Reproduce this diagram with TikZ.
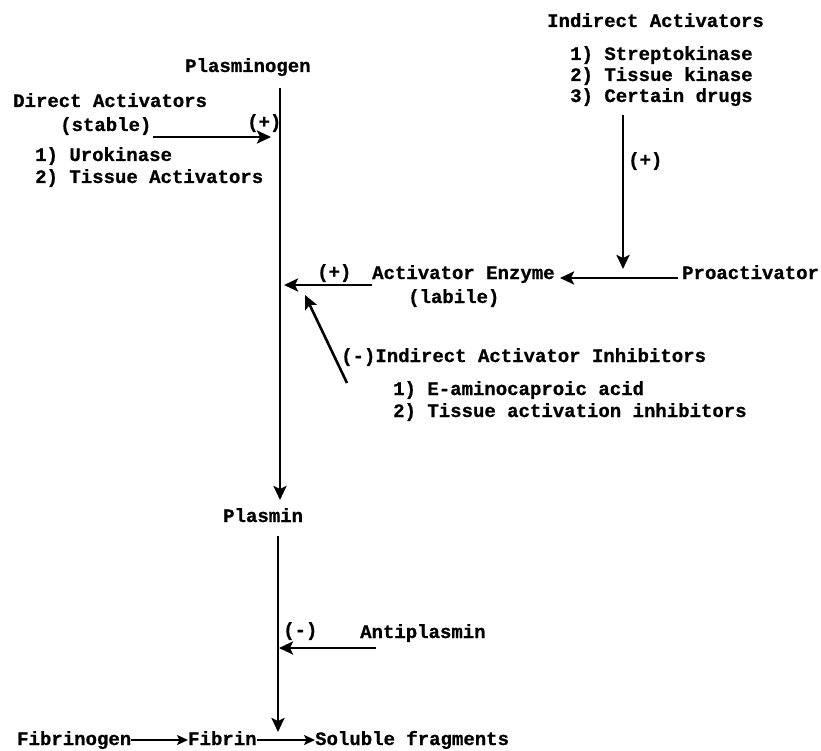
\documentclass[tikz,border=0pt]{standalone}
\usepackage{fontspec}
\setmainfont{Liberation Mono}[BoldFeatures={FakeBold=0.8}]
\usetikzlibrary{arrows.meta}
\begin{document}
\begin{tikzpicture}[x=1pt,y=-1pt,
  lbl/.style={anchor=base west,inner sep=0pt,font=\bfseries\fontsize{19}{21}\selectfont},
  conn/.style={line width=2.6pt,-{Stealth[length=14pt,width=13pt,inset=3pt]}},
  thinconn/.style={line width=1.8pt,-{Stealth[length=11pt,width=10pt,inset=2.5pt]}}]
\useasboundingbox (0,0) rectangle (821,751);
% texts
\node[lbl] (plg) at (185,72) {Plasminogen};
\node[lbl] (da) at (13,107) {Direct Activators};
\node[lbl] (stab) at (60,131) {(stable)};
\node[lbl] (p1) at (247,128) {(+)};
\node[lbl] (uro) at (35,161) {1) Urokinase};
\node[lbl] (ta) at (35,183) {2) Tissue Activators};
\node[lbl] (ia) at (547,27) {Indirect Activators};
\node[lbl] (sk) at (570,60) {1) Streptokinase};
\node[lbl] (tk) at (570,81) {2) Tissue kinase};
\node[lbl] (cd) at (570,102) {3) Certain drugs};
\node[lbl] (p2) at (628,166) {(+)};
\node[lbl] (enz) at (372,279) {Activator Enzyme};
\node[lbl] (lab) at (408,303) {(labile)};
\node[lbl] (p3) at (317,278) {(+)};
\node[lbl] (pro) at (682,279) {Proactivator};
\node[lbl] (iai) at (341,362) {(-)Indirect Activator Inhibitors};
\node[lbl] (eac) at (393,395) {1) E-aminocaproic acid};
\node[lbl] (tai) at (393,417) {2) Tissue activation inhibitors};
\node[lbl] (pls) at (223,522) {Plasmin};
\node[lbl] (m1) at (283,636) {(-)};
\node[lbl] (anti) at (360,638) {Antiplasmin};
\node[lbl] (fbg) at (17,745) {Fibrinogen};
\node[lbl] (fib) at (188,745) {Fibrin};
\node[lbl] (sol) at (315,745) {Soluble fragments};
% coordinates
\coordinate (v1a) at (280,88);
\coordinate (v1b) at (280,500);
\coordinate (dAs) at (153,137);
\coordinate (dAe) at (271,137);
\coordinate (iAs) at (623,115);
\coordinate (iAe) at (623,269);
\coordinate (prs) at (678,278);
\coordinate (pre) at (560,278);
\coordinate (ens) at (372,285);
\coordinate (ene) at (284,285);
\coordinate (dgs) at (347,383);
\coordinate (dge) at (305,295);
\coordinate (v2a) at (278,536);
\coordinate (v2b) at (278,732);
\coordinate (aps) at (376,648);
\coordinate (ape) at (279,648);
% connectors
\draw[conn] (v1a) -- (v1b);
\draw[conn] (dAs) -- (dAe);
\draw[conn] (iAs) -- (iAe);
\draw[conn] (prs) -- (pre);
\draw[conn] (ens) -- (ene);
\draw[conn] (dgs) -- (dge);
\draw[conn] (v2a) -- (v2b);
\draw[conn] (aps) -- (ape);
\draw[thinconn] ([yshift=5pt]fbg.base east) -- ([yshift=5pt]fib.base west);
\draw[thinconn] ([yshift=5pt]fib.base east) -- ([yshift=5pt]sol.base west);
\end{tikzpicture}
\end{document}
